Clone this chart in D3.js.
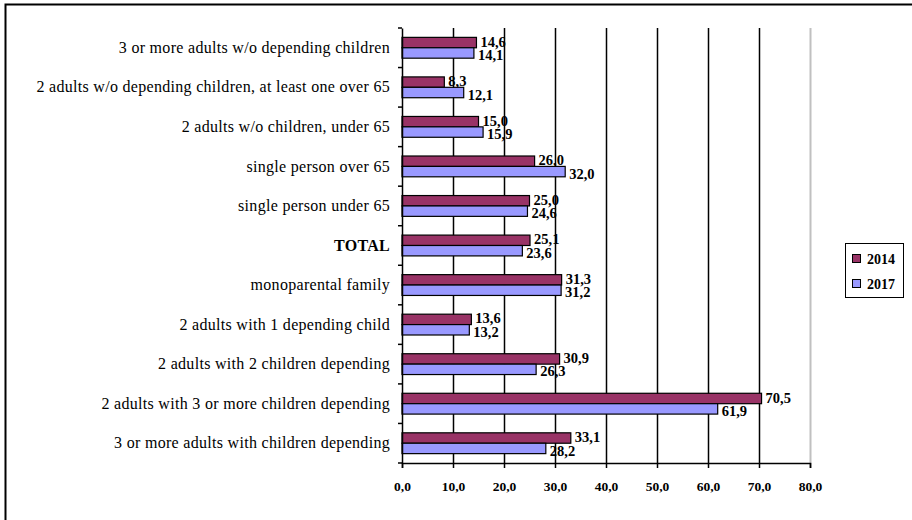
<!DOCTYPE html>
<html><head><meta charset="utf-8">
<script src="https://cdn.jsdelivr.net/npm/d3@7"></script>
<style>body{margin:0;background:#fff}svg{display:block}
text{font-family:"Liberation Serif","Times New Roman",Times,serif}</style>
</head><body>
<svg id="c" width="912" height="520"></svg>
<script>
const categories = [
  "3 or more adults w/o depending children",
  "2 adults w/o depending children, at least one over 65",
  "2 adults w/o children, under 65",
  "single person over 65",
  "single person under 65",
  "TOTAL",
  "monoparental family",
  "2 adults with 1 depending child",
  "2 adults with 2 children depending",
  "2 adults with 3 or more children depending",
  "3 or more adults with children depending"
];
const series = ["2014", "2017"];
const values2014 = [14.6, 8.3, 15.0, 26.0, 25.0, 25.1, 31.3, 13.6, 30.9, 70.5, 33.1];
const values2017 = [14.1, 12.1, 15.9, 32.0, 24.6, 23.6, 31.2, 13.2, 26.3, 61.9, 28.2];
const xTicks = [0, 10, 20, 30, 40, 50, 60, 70, 80];
const colors = ["#993366", "#9999FF"];

const svg = d3.select("#c");
const fmt = v => v.toFixed(1).replace(".", ",");

// outer frame
svg.append("rect").attr("x", 5.5).attr("y", 4.5).attr("width", 1000).attr("height", 1000)
  .attr("fill", "none").attr("stroke", "#000").attr("stroke-width", 2);

const L = 402, R = 810, T = 28, B = 463;
const x = d3.scaleLinear().domain([0, 80]).range([L, R]);
const y = d3.scaleBand().domain(categories).range([T, B]);
const inner = d3.scaleBand().domain(series).range([0, y.bandwidth()]).paddingOuter(0.9).paddingInner(0);

// gridlines
svg.append("g").selectAll("line").data(xTicks.slice(1)).join("line")
  .attr("x1", d => x(d) + 0.5).attr("x2", d => x(d) + 0.5)
  .attr("y1", T).attr("y2", B)
  .attr("stroke", d => d === 80 ? "#c0c0c0" : "#000").attr("stroke-width", d => d === 80 ? 2 : 1.5);

// bars
const rows = categories.map((c, i) => ({c, vals: [values2014[i], values2017[i]]}));
const g = svg.append("g");
rows.forEach(r => {
  r.vals.forEach((v, j) => {
    const yy = y(r.c) + inner(series[j]);
    g.append("rect").attr("x", x(0)).attr("y", yy)
      .attr("width", x(v) - x(0)).attr("height", inner.bandwidth())
      .attr("fill", colors[j]).attr("stroke", "#000").attr("stroke-width", 1.2);
    g.append("text").attr("x", x(v) + 4).attr("y", yy + inner.bandwidth() / 2 + (j === 0 ? -1 : 2))
      .attr("dy", "0.35em").attr("font-size", 14.5).attr("font-weight", "bold")
      .attr("fill", "#000").text(fmt(v));
  });
});

// y axis
const yAxis = d3.axisLeft(y).tickSize(0).tickPadding(12);
const ya = svg.append("g").attr("transform", `translate(${L},0)`).call(yAxis);
ya.attr("font-family", null);
ya.select(".domain").attr("stroke", "#000").attr("stroke-width", 1.5);
ya.selectAll("text").attr("font-size", 16).attr("letter-spacing", 0.3).attr("fill", "#000")
  .attr("font-weight", d => d === "TOTAL" ? "bold" : "normal");
// tick marks at band boundaries
const bounds = categories.map(c => y(c)).concat([B]);
svg.append("g").selectAll("line").data(bounds).join("line")
  .attr("x1", L - 4).attr("x2", L).attr("y1", d => d).attr("y2", d => d)
  .attr("stroke", "#000").attr("stroke-width", 1.5);

// x axis
const xAxis = d3.axisBottom(x).tickValues(xTicks).tickSize(5).tickPadding(13).tickFormat(fmt);
const xa = svg.append("g").attr("transform", `translate(0,${B})`).call(xAxis);
xa.attr("font-family", null);
xa.select(".domain").attr("stroke", "#000").attr("stroke-width", 1.5);
xa.selectAll(".tick line").attr("stroke", "#000").attr("stroke-width", 1.5);
xa.selectAll("text").attr("font-size", 13.5).attr("font-weight", "bold").attr("fill", "#000");

// legend
const lg = svg.append("g");
lg.append("rect").attr("x", 845.5).attr("y", 243.5).attr("width", 58).attr("height", 54)
  .attr("fill", "#fff").attr("stroke", "#000").attr("stroke-width", 1);
series.forEach((s, j) => {
  const cy = 259 + j * 25;
  lg.append("rect").attr("x", 852.5).attr("y", cy - 4.5).attr("width", 8).attr("height", 8)
    .attr("fill", colors[j]).attr("stroke", "#000").attr("stroke-width", 1);
  lg.append("text").attr("x", 867).attr("y", cy).attr("dy", "0.35em")
    .attr("font-size", 14).attr("font-weight", "bold").attr("fill", "#000").text(s);
});
</script>
</body></html>
